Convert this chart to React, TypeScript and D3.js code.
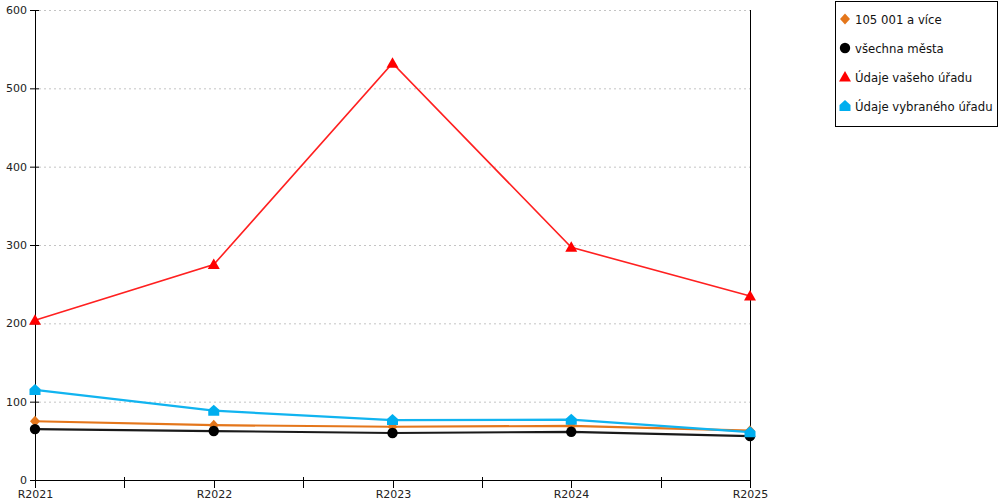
import { useEffect, useRef } from 'react';
import * as d3 from 'd3';

const categories = ['R2021', 'R2022', 'R2023', 'R2024', 'R2025'];
const yTicks = [0, 100, 200, 300, 400, 500, 600];

const seriesNames = ['105 001 a více', 'všechna města', 'Údaje vašeho úřadu', 'Údaje vybraného úřadu'];
const orangeValues = [75, 70, 68, 69, 63];
const blackValues = [65, 62.5, 60, 61.5, 56];
const redValues = [204, 275, 532, 297, 235];
const blueValues = [115, 88.5, 76.5, 77, 61];

const seriesColors = ['#e4761b', '#000000', '#ff0000', '#00aeef'];
const lineColors = ['#e4761b', '#1a1a1a', '#ff2020', '#11b4f0'];
const seriesMarkers = ['diamond', 'circle', 'triangle', 'house'];

function markerPath(kind: string): string {
  if (kind === 'diamond') return 'M0,-5.5L5,0L0,5.5L-5,0Z';
  if (kind === 'circle') return d3.symbol(d3.symbolCircle, 85)() || '';
  if (kind === 'triangle') return 'M0,-6L6,4.5L-6,4.5Z';
  return 'M0,-6L5.5,-1L5.5,5L-5.5,5L-5.5,-1Z';
}

export default function App() {
  const svgRef = useRef<SVGSVGElement>(null);

  useEffect(() => {
    if (!svgRef.current) return;
    const width = 1000;
    const height = 500;
    const svg = d3.select(svgRef.current).attr('width', width).attr('height', height);
    svg.selectAll('*').remove();

    const x = d3.scalePoint<string>().domain(categories).range([35, 750]);
    const y = d3.scaleLinear().domain([0, 600]).range([480, 10]);
    const font = 'DejaVu Sans, Verdana, sans-serif';

    // Grid
    svg
      .append('g')
      .selectAll('line')
      .data(yTicks.filter((t) => t > 0))
      .join('line')
      .attr('x1', 39)
      .attr('x2', 750)
      .attr('y1', (d) => y(d) + 0.5)
      .attr('y2', (d) => y(d) + 0.5)
      .attr('stroke', '#c4c4c4')
      .attr('stroke-dasharray', '2,3');

    // Right border
    svg
      .append('line')
      .attr('x1', 750.5)
      .attr('x2', 750.5)
      .attr('y1', 10)
      .attr('y2', 487)
      .attr('stroke', '#000');

    // Y axis
    const yAxis = svg.append('g');
    yAxis
      .append('line')
      .attr('x1', 35.5)
      .attr('x2', 35.5)
      .attr('y1', 10)
      .attr('y2', 487)
      .attr('stroke', '#000');
    yTicks.forEach((t) => {
      yAxis
        .append('line')
        .attr('x1', 30)
        .attr('x2', 39)
        .attr('y1', y(t) + 0.5)
        .attr('y2', y(t) + 0.5)
        .attr('stroke', '#000');
      yAxis
        .append('text')
        .attr('x', 27)
        .attr('y', y(t) + 4)
        .attr('text-anchor', 'end')
        .style('font-family', font)
        .style('font-size', '11px')
        .attr('fill', '#222')
        .text(t);
    });

    // X axis
    const xAxis = svg.append('g');
    xAxis
      .append('line')
      .attr('x1', 35)
      .attr('x2', 751)
      .attr('y1', 480.5)
      .attr('y2', 480.5)
      .attr('stroke', '#000');
    categories.forEach((c, i) => {
      const cx = Math.round(x(c) as number) + 0.5;
      xAxis
        .append('line')
        .attr('x1', cx)
        .attr('x2', cx)
        .attr('y1', 480)
        .attr('y2', 488)
        .attr('stroke', '#000');
      xAxis
        .append('text')
        .attr('x', cx)
        .attr('y', 498)
        .attr('text-anchor', 'middle')
        .style('font-family', font)
        .style('font-size', '11px')
        .attr('fill', '#222')
        .text(c);
      if (i < categories.length - 1) {
        const mx = Math.round(((x(c) as number) + (x(categories[i + 1]) as number)) / 2) + 0.5;
        xAxis
          .append('line')
          .attr('x1', mx)
          .attr('x2', mx)
          .attr('y1', 477)
          .attr('y2', 488)
          .attr('stroke', '#000');
      }
    });

    // Series
    const allValues = [orangeValues, blackValues, redValues, blueValues];
    const line = d3
      .line<number>()
      .x((_, i) => x(categories[i]) as number)
      .y((d) => y(d));

    allValues.forEach((vals, s) => {
      svg
        .append('path')
        .datum(vals)
        .attr('d', line)
        .attr('fill', 'none')
        .attr('stroke', lineColors[s])
        .attr('stroke-width', s === 2 ? 1.6 : 2.2);
    });
    allValues.forEach((vals, s) => {
      svg
        .append('g')
        .selectAll('path')
        .data(vals)
        .join('path')
        .attr('d', markerPath(seriesMarkers[s]))
        .attr('transform', (d, i) => `translate(${x(categories[i])},${y(d)})`)
        .attr('fill', seriesColors[s]);
    });

    // Legend
    const legend = svg.append('g');
    legend
      .append('rect')
      .attr('x', 835.5)
      .attr('y', 1.5)
      .attr('width', 162)
      .attr('height', 125)
      .attr('fill', '#fff')
      .attr('stroke', '#000');
    seriesNames.forEach((name, s) => {
      const ly = 19 + s * 29;
      legend
        .append('path')
        .attr('d', markerPath(seriesMarkers[s]))
        .attr('transform', `translate(845,${ly})`)
        .attr('fill', seriesColors[s]);
      legend
        .append('text')
        .attr('x', 855)
        .attr('y', ly + 4.5)
        .style('font-family', font)
        .style('font-size', '11.7px')
        .attr('fill', '#111')
        .text(name);
    });
  }, []);

  return (
    <svg
      ref={svgRef}
      style={{ position: 'absolute', left: 0, top: 0, background: '#fff' }}
    ></svg>
  );
}
